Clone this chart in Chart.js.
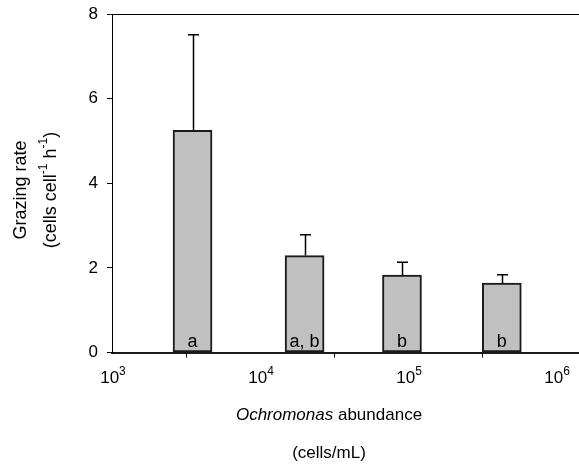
<!DOCTYPE html>
<html>
<head>
<meta charset="utf-8">
<script src="https://cdn.jsdelivr.net/npm/chart.js@4.4.1/dist/chart.umd.min.js"></script>
<style>
  html, body { margin: 0; padding: 0; background: #fff; overflow: hidden; }
  #chart { display: block; }
</style>
</head>
<body>
<canvas id="chart" width="579" height="470"></canvas>
<script>
// Grazing rate of the predator at four Ochromonas abundances (cells/mL)
const abundance = [3500, 20000, 91000, 430000];
const grazingRate = [5.25, 2.29, 1.83, 1.64];
const errorUpper = [2.26, 0.49, 0.30, 0.20];
const groupLetters = ['a', 'a, b', 'b', 'b'];
const yTicks = [0, 2, 4, 6, 8];
const xTickExponents = [3, 4, 5, 6];

const FONT = "'Liberation Sans', Arial, sans-serif";

// draws a run of text pieces, some of them raised as superscripts, centred on (cx, cy)
function drawRichText(ctx, pieces, cx, cy, size, rotate) {
  const supSize = Math.round(size * 0.68);
  ctx.save();
  ctx.translate(cx, cy);
  if (rotate) ctx.rotate(-Math.PI / 2);
  ctx.fillStyle = '#000';
  ctx.textBaseline = 'middle';
  ctx.textAlign = 'left';
  let total = 0;
  const widths = pieces.map(p => {
    ctx.font = (p.italic ? 'italic ' : '') + (p.sup ? supSize : size) + 'px ' + FONT;
    const w = ctx.measureText(p.t).width;
    total += w;
    return w;
  });
  let x = -total / 2;
  pieces.forEach((p, i) => {
    ctx.font = (p.italic ? 'italic ' : '') + (p.sup ? supSize : size) + 'px ' + FONT;
    ctx.fillText(p.t, x, p.sup ? -size * 0.38 : 0);
    x += widths[i];
  });
  ctx.restore();
}

const annotations = {
  id: 'annotations',
  afterDatasetsDraw(chart) {
    const ctx = chart.ctx;
    const xs = chart.scales.x, ys = chart.scales.y;
    ctx.save();
    // upper error bars with caps
    ctx.strokeStyle = '#000';
    ctx.lineWidth = 1.5;
    abundance.forEach((a, i) => {
      const px = Math.round(xs.getPixelForValue(a)) + 0.5;
      const top = ys.getPixelForValue(grazingRate[i] + errorUpper[i]);
      const base = ys.getPixelForValue(grazingRate[i]);
      ctx.beginPath();
      ctx.moveTo(px, base);
      ctx.lineTo(px, top);
      ctx.moveTo(px - 5.5, top);
      ctx.lineTo(px + 5.5, top);
      ctx.stroke();
    });
    // significance letters at the foot of each bar
    ctx.fillStyle = '#000';
    ctx.font = '18px ' + FONT;
    ctx.textAlign = 'center';
    ctx.textBaseline = 'middle';
    abundance.forEach((a, i) => {
      ctx.fillText(groupLetters[i], xs.getPixelForValue(a), ys.getPixelForValue(0) - 10);
    });
    ctx.restore();
  },
  afterDraw(chart) {
    const ctx = chart.ctx;
    const area = chart.chartArea;
    const xs = chart.scales.x;
    // top frame line
    ctx.save();
    ctx.strokeStyle = '#000';
    ctx.lineWidth = 1;
    ctx.beginPath();
    ctx.moveTo(area.left, area.top + 0.5);
    ctx.lineTo(chart.width, area.top + 0.5);
    ctx.stroke();
    ctx.restore();
    // decade tick labels
    xTickExponents.forEach(e => {
      drawRichText(ctx, [{ t: '10' }, { t: String(e), sup: true }],
        xs.getPixelForValue(Math.pow(10, e)) + 1, 378, 17, false);
    });
    // axis titles
    drawRichText(ctx, [{ t: 'Ochromonas', italic: true }, { t: ' abundance' }], 329, 415, 17, false);
    drawRichText(ctx, [{ t: '(cells/mL)' }], 329, 453, 17, false);
    drawRichText(ctx, [{ t: 'Grazing rate' }], 21, 190, 18, true);
    drawRichText(ctx, [{ t: '(cells cell' }, { t: '-1', sup: true }, { t: ' h' }, { t: '-1', sup: true }, { t: ')' }], 51, 190, 18, true);
  }
};

new Chart(document.getElementById('chart'), {
  type: 'bar',
  data: {
    datasets: [{
      data: abundance.map((a, i) => ({ x: a, y: grazingRate[i] })),
      backgroundColor: '#c0c0c0',
      borderColor: '#1a1a1a',
      borderWidth: 2,
      borderSkipped: false,
      barThickness: 39
    }]
  },
  options: {
    responsive: false,
    animation: false,
    devicePixelRatio: 1,
    layout: { padding: { top: 14, left: 0, right: 0, bottom: 0 } },
    plugins: { legend: { display: false }, tooltip: { enabled: false } },
    scales: {
      x: {
        type: 'logarithmic',
        min: 1000,
        max: Math.pow(10, 6.155),
        afterBuildTicks(scale) {
          scale.ticks = xTickExponents.map(e => ({ value: Math.pow(10, e) }));
        },
        afterFit(scale) {
          scale.height = 117.5;
          scale.paddingLeft = 0;
          scale.paddingRight = 0;
        },
        ticks: { callback: () => '', font: { size: 17, family: FONT } },
        grid: { drawOnChartArea: false, drawTicks: true, tickLength: 5, color: '#000', lineWidth: 1 },
        border: { display: true, color: '#1a1a1a', width: 2 }
      },
      y: {
        min: 0,
        max: 8,
        afterBuildTicks(scale) {
          scale.ticks = yTicks.map(v => ({ value: v }));
        },
        afterFit(scale) {
          scale.width = 112;
          scale.paddingTop = 0;
          scale.paddingBottom = 0;
        },
        ticks: { color: '#000', padding: 9, font: { size: 17, family: FONT } },
        grid: { drawOnChartArea: false, drawTicks: true, tickLength: 5, color: '#000', lineWidth: 1 },
        border: { display: true, color: '#000', width: 1 }
      }
    }
  },
  plugins: [annotations]
});
</script>
</body>
</html>
